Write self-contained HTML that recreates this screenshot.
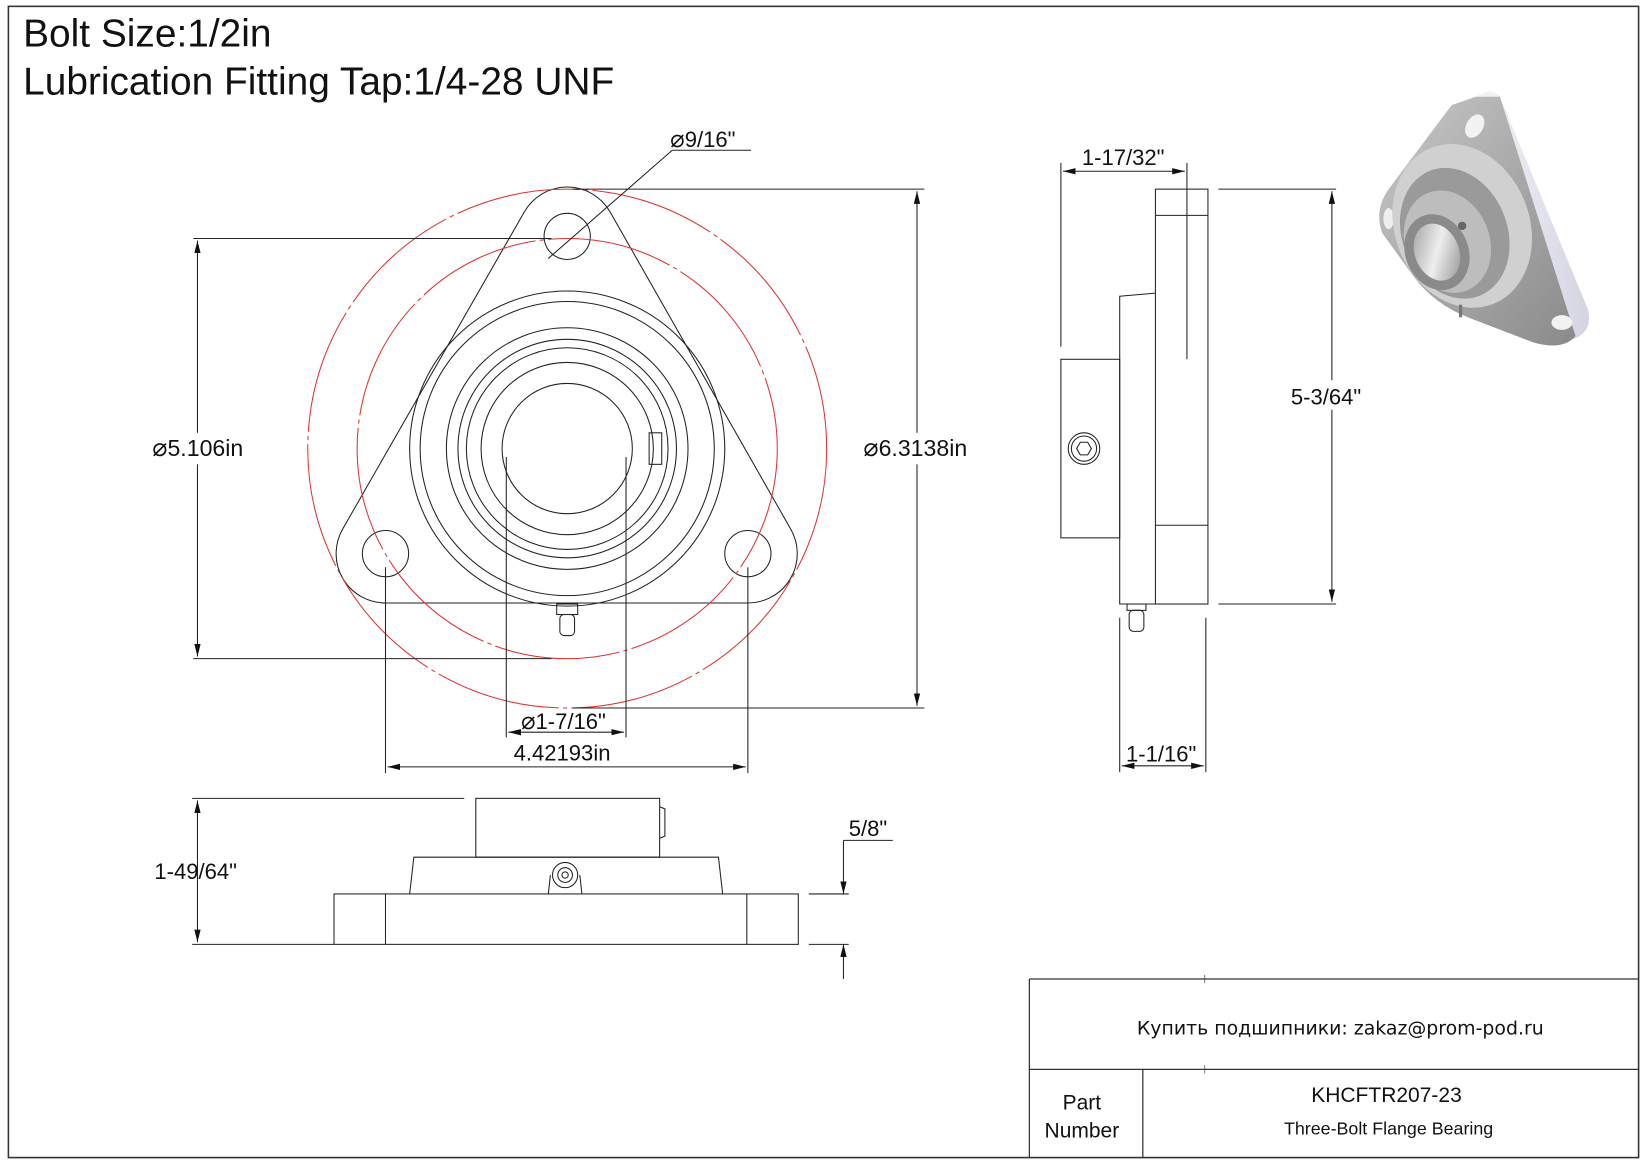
<!DOCTYPE html>
<html><head><meta charset="utf-8"><style>
html,body{margin:0;padding:0;background:#fff}
svg{display:block}
text{font-family:"Liberation Sans","DejaVu Sans",sans-serif;fill:#111}
</style></head><body>
<svg width="1647" height="1165" viewBox="0 0 1568 1109" xmlns="http://www.w3.org/2000/svg">
<defs>
<marker id="ar" viewBox="0 0 12 6" refX="12" refY="3" markerWidth="12" markerHeight="6" orient="auto-start-reverse" markerUnits="userSpaceOnUse"><path d="M0,0 L12,3 L0,6 Z" fill="#111"/></marker>
<linearGradient id="g1" x1="0" y1="0" x2="1" y2="0"><stop offset="0" stop-color="#f4f4fa"/><stop offset="1" stop-color="#d4d4e2"/></linearGradient>
<linearGradient id="g2" x1="0" y1="0" x2="1" y2="1"><stop offset="0" stop-color="#999"/><stop offset="0.5" stop-color="#eee"/><stop offset="1" stop-color="#8a8a8a"/></linearGradient>
<linearGradient id="g3" x1="0" y1="0" x2="1" y2="1"><stop offset="0" stop-color="#c8c8c8"/><stop offset="1" stop-color="#8a8a8a"/></linearGradient>
</defs>
<rect x="8" y="6" width="1552" height="1096" fill="none" stroke="#333" stroke-width="1.5"/>
<text x="22" y="44" font-size="37">Bolt Size:1/2in</text>
<text x="22" y="90" font-size="37">Lubrication Fitting Tap:1/4-28 UNF</text>

<g fill="none" stroke="#222" stroke-width="1">
<path d="M499,202 A47 47 0 0 1 581,202 L753,504 A47 47 0 0 1 712,574 L367,574 A47 47 0 0 1 326,504 Z"/>
<circle cx="540" cy="225" r="22"/><circle cx="367" cy="527" r="22"/><circle cx="712" cy="527" r="22"/>
<circle cx="540" cy="427" r="150"/><circle cx="540" cy="427" r="140"/>
<circle cx="540" cy="427" r="115"/><circle cx="540" cy="427" r="104"/><circle cx="540" cy="427" r="96"/>
<circle cx="540" cy="427" r="82"/><circle cx="540" cy="427" r="62"/>
<rect x="618" y="412" width="12" height="30"/>
<rect x="530" y="575" width="20" height="10"/><rect x="533" y="585" width="14" height="20" rx="4"/>
</g>
<circle cx="540" cy="427" r="247" fill="none" stroke="#d33" stroke-width="1" stroke-dasharray="120 4 4 4"/>
<circle cx="540" cy="427" r="200" fill="none" stroke="#d33" stroke-width="1" stroke-dasharray="120 4 4 4"/>

<g stroke="#222" stroke-width="1" fill="none">
<line x1="184" y1="227" x2="525" y2="227"/><line x1="184" y1="627" x2="525" y2="627"/>
<line x1="188" y1="229" x2="188" y2="625" marker-start="url(#ar)" marker-end="url(#ar)"/>
<line x1="545" y1="180" x2="880" y2="180"/><line x1="545" y1="674" x2="880" y2="674"/>
<line x1="873" y1="182" x2="873" y2="672" marker-start="url(#ar)" marker-end="url(#ar)"/>
<line x1="367" y1="540" x2="367" y2="736"/><line x1="712" y1="540" x2="712" y2="736"/>
<line x1="369" y1="730" x2="710" y2="730" marker-start="url(#ar)" marker-end="url(#ar)"/>
<line x1="482" y1="435" x2="482" y2="702"/><line x1="596" y1="435" x2="596" y2="702"/>
<line x1="484" y1="697" x2="594" y2="697" marker-start="url(#ar)" marker-end="url(#ar)"/>
<line x1="640" y1="143" x2="715" y2="143"/><line x1="640" y1="143" x2="522" y2="246"/>
</g>
<rect x="143" y="412" width="96" height="30" fill="#fff"/>
<rect x="820" y="412" width="108" height="30" fill="#fff"/>
<rect x="140" y="815" width="92" height="30" fill="#fff"/>
<text x="145" y="434" font-size="22"><tspan font-size="24">⌀</tspan>5.106in</text>
<text x="822" y="434" font-size="22"><tspan font-size="24">⌀</tspan>6.3138in</text>
<text x="489" y="724" font-size="21">4.42193in</text>
<text x="496" y="694" font-size="21"><tspan font-size="23">⌀</tspan>1-7/16"</text>
<text x="638" y="140" font-size="21"><tspan font-size="23">⌀</tspan>9/16"</text>

<g stroke="#222" stroke-width="1" fill="none">
<rect x="1100" y="180" width="50" height="395"/>
<line x1="1100" y1="205" x2="1150" y2="205"/><line x1="1100" y1="500" x2="1150" y2="500"/>
<path d="M1100,575 L1066,575 L1066,282 L1100,279"/>
<rect x="1010" y="342" width="56" height="170"/>
<circle cx="1032" cy="427" r="15"/><circle cx="1032" cy="427" r="12"/>
<path d="M1025,427 l3.5,-6 h7 l3.5,6 l-3.5,6 h-7 z"/>
<rect x="1073" y="575" width="18" height="6"/><rect x="1075" y="581" width="14" height="20" rx="4"/>
<line x1="1010" y1="155" x2="1010" y2="330"/><line x1="1130" y1="155" x2="1130" y2="342"/>
<line x1="1012" y1="163" x2="1128" y2="163" marker-start="url(#ar)" marker-end="url(#ar)"/>
<line x1="1160" y1="180" x2="1272" y2="180"/><line x1="1160" y1="575" x2="1272" y2="575"/>
<line x1="1268" y1="182" x2="1268" y2="573" marker-start="url(#ar)" marker-end="url(#ar)"/>
<line x1="1066" y1="588" x2="1066" y2="735"/><line x1="1148" y1="588" x2="1148" y2="735"/>
<line x1="1068" y1="729" x2="1146" y2="729" marker-start="url(#ar)" marker-end="url(#ar)"/>
</g>
<rect x="1225" y="362" width="80" height="28" fill="#fff"/>
<text x="1229" y="385" font-size="21">5-3/64"</text>
<text x="1030" y="157" font-size="21">1-17/32"</text>
<text x="1072" y="725" font-size="21">1-1/16"</text>

<g stroke="#222" stroke-width="1" fill="none">
<rect x="318" y="851" width="442" height="48"/>
<line x1="367" y1="851" x2="367" y2="899"/><line x1="711" y1="851" x2="711" y2="899"/>
<path d="M390,851 L394,816 L684,816 L688,851"/>
<rect x="453" y="760" width="175" height="56"/>
<path d="M628,768 L633,770 L633,796 L628,798"/>
<circle cx="538" cy="833" r="12"/><circle cx="538" cy="833" r="7"/><circle cx="538" cy="833" r="3"/>
<path d="M522,851 L524,833 M554,851 L552,833"/>
<line x1="183" y1="760" x2="442" y2="760"/><line x1="183" y1="899" x2="318" y2="899"/>
<line x1="188" y1="762" x2="188" y2="897" marker-start="url(#ar)" marker-end="url(#ar)"/>
<line x1="770" y1="851" x2="808" y2="851"/><line x1="770" y1="899" x2="808" y2="899"/>
<line x1="803" y1="800" x2="803" y2="851" marker-end="url(#ar)"/>
<line x1="803" y1="932" x2="803" y2="899" marker-end="url(#ar)"/>
<line x1="803" y1="800" x2="850" y2="800"/>
</g>
<text x="147" y="837" font-size="21">1-49/64"</text>
<text x="808" y="796" font-size="21">5/8"</text>

<!-- iso picture -->
<g>
<path d="M1405,92 Q1418,82 1428,92 L1512,295 Q1516,315 1500,322 L1478,328 Z" fill="url(#g1)"/>
<path d="M1405,92 L1382,100 L1322,180 Q1308,200 1316,222 L1345,262 Q1365,290 1400,303 L1460,326 Q1488,334 1500,320 L1428,92 Z" fill="url(#g3)"/>
<ellipse cx="1404" cy="120" rx="8" ry="12" transform="rotate(30 1404 120)" fill="#f2f2f2"/>
<ellipse cx="1322" cy="208" rx="5" ry="10" fill="#eee"/>
<ellipse cx="1487" cy="307" rx="10" ry="7" fill="#f2f2f2"/>
<ellipse cx="1392" cy="215" rx="64" ry="80" transform="rotate(-22 1392 215)" fill="#d0d0d0"/>
<ellipse cx="1385" cy="222" rx="50" ry="64" transform="rotate(-22 1385 222)" fill="#9a9a9a"/>
<ellipse cx="1378" cy="230" rx="40" ry="50" transform="rotate(-22 1378 230)" fill="#bdbdbd"/>
<ellipse cx="1368" cy="240" rx="30" ry="37" transform="rotate(-22 1368 240)" fill="#8a8a8a"/>
<ellipse cx="1368" cy="240" rx="21" ry="28" transform="rotate(-22 1368 240)" fill="url(#g2)"/>
<circle cx="1392" cy="215" r="4" fill="#666"/>
<rect x="1389" y="290" width="3" height="12" fill="#777"/>
</g>

<g stroke="#333" stroke-width="1.2" fill="none">
<line x1="980" y1="932" x2="1560" y2="932"/>
<line x1="980" y1="932" x2="980" y2="1102"/>
<line x1="980" y1="1018" x2="1560" y2="1018"/>
<line x1="1088" y1="1018" x2="1088" y2="1102"/>
<line x1="1147" y1="928" x2="1147" y2="936" stroke-width="0.6"/>
<line x1="1147" y1="1014" x2="1147" y2="1022" stroke-width="0.6"/>
</g>
<text x="1276" y="985" font-size="18" text-anchor="middle" style="font-family:'DejaVu Sans',sans-serif">Купить подшипники: zakaz@prom-pod.ru</text>
<text x="1030" y="1056" font-size="20" text-anchor="middle">Part</text>
<text x="1030" y="1083" font-size="20" text-anchor="middle">Number</text>
<text x="1320" y="1049" font-size="20" text-anchor="middle">KHCFTR207-23</text>
<text x="1322" y="1080" font-size="17" text-anchor="middle">Three-Bolt Flange Bearing</text>
</svg>
</body></html>
